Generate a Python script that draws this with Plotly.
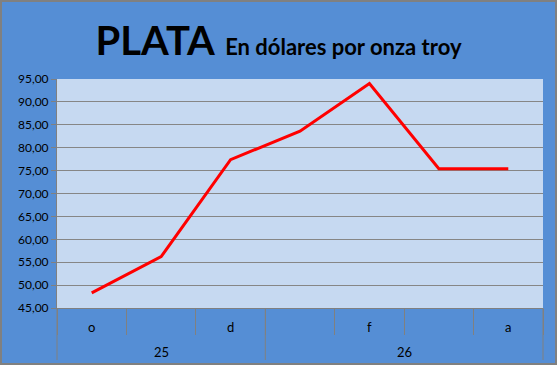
import plotly.graph_objects as go

# ---- data ----
months = ["oct-25", "nov-25", "dic-25", "ene-26", "feb-26", "mar-26", "abr-26"]
month_labels = ["o", "", "d", "", "f", "", "a"]
prices = [48.3, 56.2, 77.4, 83.6, 94.0, 75.4, 75.4]
title_main = "PLATA"
title_sub = "En dólares por onza troy"

# ---- geometry helpers (plot area in pixels) ----
W, H = 557, 365
L, R, T, B = 57, 14, 79, 57
PW, PH = W - L - R, H - T - B
XR = [-0.5, len(months) - 0.5]


def px2x(px):
    return (px - L) / PW


def py2y(py):
    return (H - B - py) / PH


def cat2x(c):
    return (c - XR[0]) / (XR[1] - XR[0])


GRAY = "#808080"
FONT = "Lato"

fig = go.Figure(
    go.Scatter(
        x=months,
        y=prices,
        mode="lines",
        line=dict(color="#ff0000", width=3),
        hoverinfo="x+y",
    )
)

shapes = []
annotations = []

# outer chart border
shapes.append(dict(type="rect", xref="paper", yref="paper",
                   x0=px2x(1), x1=px2x(W - 1), y0=py2y(H - 1), y1=py2y(1),
                   line=dict(color=GRAY, width=2), layer="above"))

# month letters
for i, lab in enumerate(month_labels):
    if lab:
        annotations.append(dict(x=months[i], xref="x", yref="paper",
                                y=py2y(327), text=lab, showarrow=False,
                                xanchor="center", yanchor="middle",
                                font=dict(family=FONT, size=13, color="#000000")))

# year groups derived from months
years = [m.split("-")[1] for m in months]
groups = []
start = 0
for i in range(1, len(years) + 1):
    if i == len(years) or years[i] != years[start]:
        groups.append((years[start], start, i - 1))
        start = i

bounds = set()
for yr, s, e in groups:
    bounds.add(s - 0.5)
    bounds.add(e + 0.5)
    annotations.append(dict(x=cat2x((s + e) / 2), xref="paper", yref="paper",
                            y=py2y(352), text=yr, showarrow=False,
                            xanchor="center", yanchor="middle",
                            font=dict(family=FONT, size=13, color="#000000")))
for b in sorted(bounds):
    shapes.append(dict(type="line", xref="paper", yref="paper",
                       x0=cat2x(b), x1=cat2x(b), y0=0, y1=py2y(360),
                       line=dict(color=GRAY, width=1)))

fig.update_layout(
    width=W, height=H,
    margin=dict(l=L, r=R, t=T, b=B, pad=0),
    paper_bgcolor="#558ed5",
    plot_bgcolor="#c6d9f1",
    separators=",.",
    showlegend=False,
    title=dict(
        text=f"<b>{title_main}</b> <b><span style='font-size:22px'>{title_sub}</span></b>",
        x=0.5, xref="container", xanchor="center",
        y=1 - 41 / H, yref="container", yanchor="middle",
        font=dict(family=FONT, size=40, color="#000000"),
    ),
    xaxis=dict(
        type="category", range=XR, showticklabels=False,
        ticks="outside", tickson="boundaries", ticklen=26,
        tickcolor=GRAY, tickwidth=1,
        showline=True, linecolor=GRAY, linewidth=1,
        showgrid=False, zeroline=False,
    ),
    yaxis=dict(
        range=[45, 95], tick0=45, dtick=5, tickformat=".2f",
        ticks="outside", ticklen=5, tickcolor=GRAY, tickwidth=1,
        showline=True, linecolor=GRAY, linewidth=1,
        showgrid=True, gridcolor="#868686", gridwidth=1, zeroline=False,
        tickfont=dict(family=FONT, size=12, color="#000000"),
    ),
    shapes=shapes,
    annotations=annotations,
)

fig.write_html(
    "out.html",
    config={"displayModeBar": False},
    post_script="document.body.style.margin='0';document.body.style.overflow='hidden';",
)
